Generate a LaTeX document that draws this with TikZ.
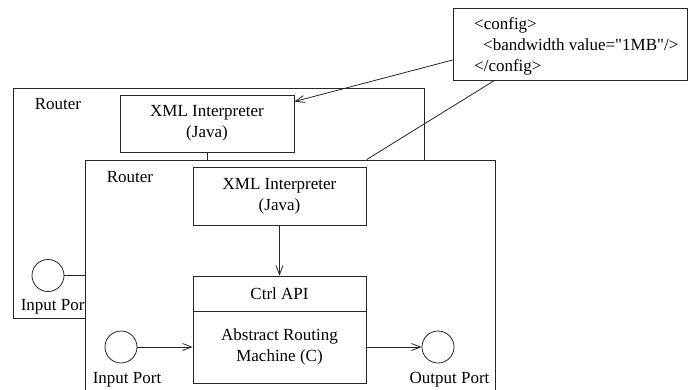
\documentclass[tikz,border=0pt]{standalone}
\usepackage{fontspec}
\setmainfont{Liberation Serif}
\newfontfamily\xmlfont{Liberation Serif}
\usetikzlibrary{arrows.meta}

\tikzset{
    every node/.style={font=\fontsize{17}{21}\selectfont},
    box/.style={draw=black!85, line width=0.8pt, fill=white, inner sep=0pt, align=center},
    port/.style={draw=black!85, line width=0.8pt, circle, minimum size=32pt, inner sep=0pt},
    link/.style={draw=black!85, line width=0.8pt},
    arr/.style={link, -{Straight Barb[length=9pt,width=7pt]}},
    lbl/.style={anchor=base, inner sep=0pt}
}

\begin{document}
\begin{tikzpicture}[x=1pt, y=-1pt]

        \clip (0,0) rectangle (688,389);

        \node[box, minimum width=411pt, minimum height=230pt] (brouter) at (218.5,203) {};
        \node[lbl] (brlabel) at (58,109) {Router};
        \node[box, minimum width=174pt, minimum height=57pt] (bxml) at (207,123.5) {XML Interpreter\\(Java)};
        \node[port] (bport) at (48,275.5) {};
        \node[lbl] (bplabel) at (55,310) {Input Port};

        \node[box, minimum width=410pt, minimum height=240pt] (frouter) at (290,280) {};
        \node[lbl] (frlabel) at (130,182) {Router};
        \node[box, minimum width=173pt, minimum height=58pt] (fxml) at (279.5,196) {XML Interpreter\\(Java)};
        \node[box, minimum width=173pt, minimum height=35pt] (ctrlapi) at (279.5,293.5) {Ctrl API};
        \node[box, minimum width=173pt, minimum height=72pt] (arm) at (279.5,347) {Abstract Routing\\Machine (C)};

        \node[port] (iport) at (121,347) {};
        \node[lbl] (iplabel) at (127,383) {Input Port};
        \node[port] (oport) at (438,347) {};
        \node[lbl] (oplabel) at (449.5,383) {Output Port};

        \node[box, minimum width=234pt, minimum height=72pt] (cfg) at (570,44) {};
        \node[anchor=north west, align=left, inner sep=0pt, font=\xmlfont\fontsize{17}{21}\selectfont] (cfgtext) at (474,17.5)
            {<config>\\\hspace*{9pt}<bandwidth value="1MB"/>\\</config>};

        \draw[link] (bport) -- (bport -| frouter.west);
        \draw[link] (bxml.south) -- (bxml.south |- frouter.north);
        \draw[arr] (fxml) -- (ctrlapi);
        \draw[arr] (iport) -- (arm);
        \draw[arr] (arm) -- (oport);
        \draw[arr] ([yshift=-16pt]cfg.west) -- ([yshift=-7pt]bxml.north east);
        \draw[link] ([xshift=42pt]cfg.south west) -- ([xshift=282pt]frouter.north west);

\end{tikzpicture}
\end{document}
